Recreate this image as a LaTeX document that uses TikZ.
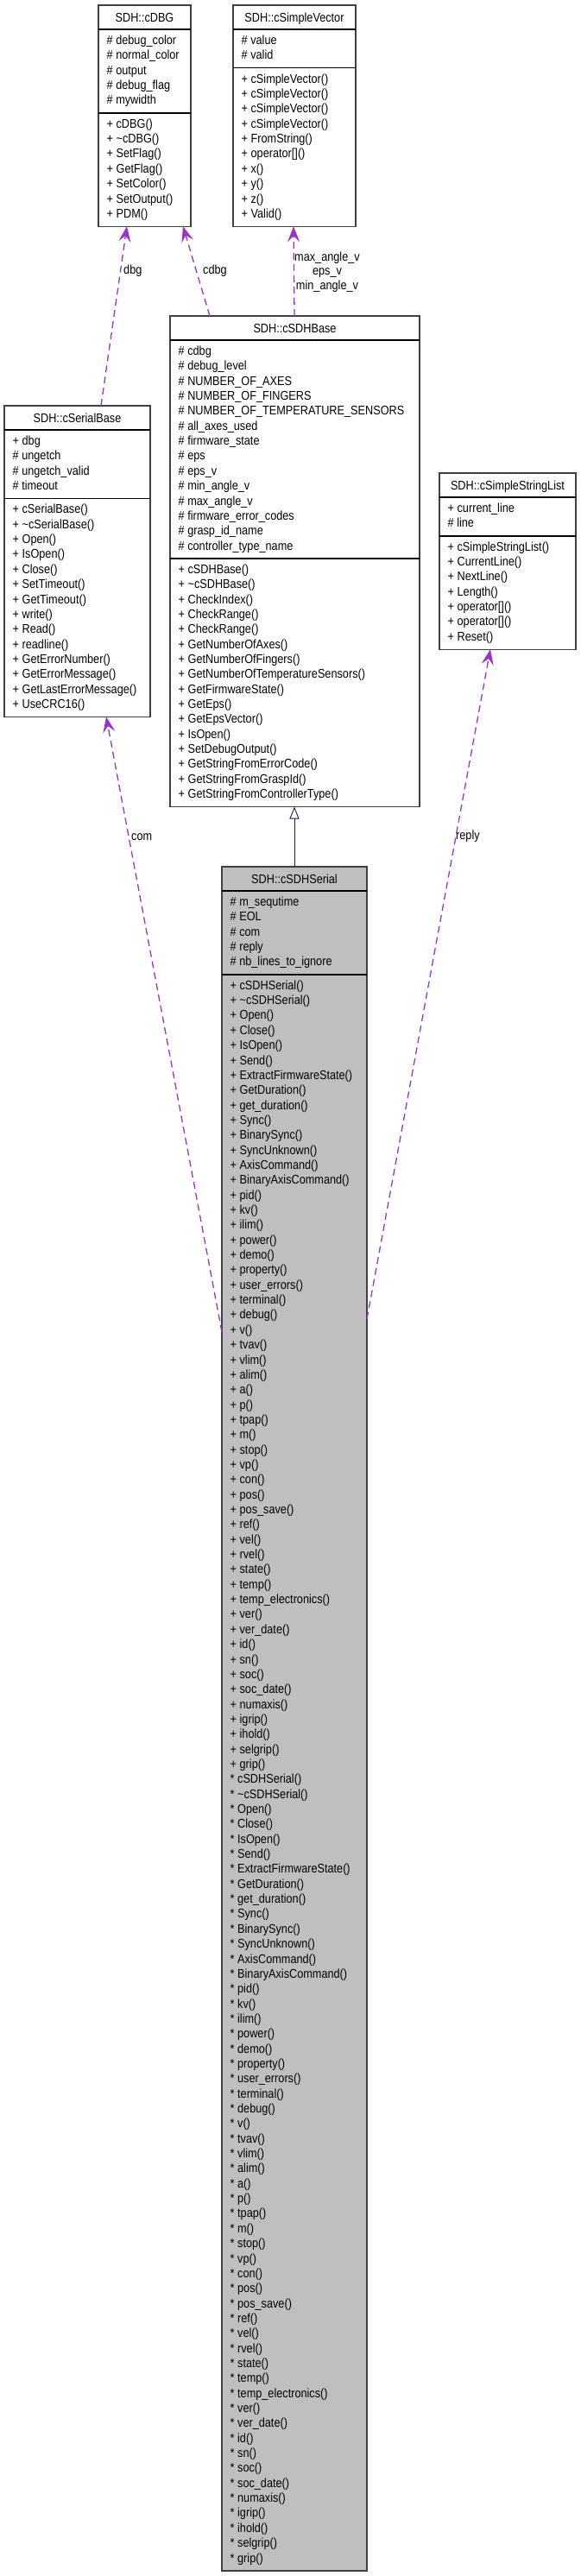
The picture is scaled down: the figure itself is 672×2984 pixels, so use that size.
\documentclass[tikz,border=0pt]{standalone}
\usepackage{fontspec}
\setmainfont{Liberation Sans}[FakeStretch=0.87]
\usetikzlibrary{arrows.meta}
\definecolor{usecol}{HTML}{9A32CD}
\definecolor{inhcol}{HTML}{191970}
\definecolor{boxfill}{HTML}{BFBFBF}
\definecolor{boxline}{HTML}{404040}
\tikzset{
 classnode/.style={draw=boxline, line width=1.3pt, rectangle, anchor=north west, inner sep=0pt, outer sep=0pt},
 sepline/.style={draw=black, line width=1.6pt},
 rowtext/.style={inner sep=0pt, font=\fontsize{14.6}{17.35}\selectfont, text=black},
 uselink/.style={draw=usecol, line width=1.3pt, dash pattern=on 8pt off 5pt, -{Stealth[length=18pt,width=14pt,inset=7pt]}},
 inhlink/.style={draw=inhcol, line width=0.9pt, -{Triangle[open,length=14pt,width=11pt]}},
 linklabel/.style={inner sep=0pt, font=\fontsize{14.6}{16.5}\selectfont, text=black},
}
% #1 name, #2 x-left, #3 x-right, #4 top, #5 n attrs, #6 n methods, #7 fill, #8 title
\newcommand\classbox[8]{%
  \pgfmathsetmacro\cbA{#4+28}%
  \pgfmathsetmacro\cbB{\cbA+#5*17.35+10}%
  \pgfmathsetmacro\cbC{\cbB+#6*17.35+10}%
  \pgfmathsetmacro\cbW{#3-#2}%
  \pgfmathsetmacro\cbH{\cbC-#4}%
  \node[classnode, fill=#7, minimum width=\cbW pt, minimum height=\cbH pt] (#1) at (#2,#4) {};
  \draw[sepline] (#2,\cbA) -- (#3,\cbA);
  \draw[sepline] (#2,\cbB) -- (#3,\cbB);
  \node[rowtext, anchor=base] (#1t) at ({(#2+#3)/2},{#4+19.3}) {#8};
}
% #1 name prefix, #2 x, #3 first baseline, #4 symbol prefix, #5 list
\newcommand\classrows[5]{%
  \foreach \t [count=\i from 0] in #5 {%
    \node[rowtext, anchor=base west] (#1\i) at (#2,{#3+\i*17.35}) {#4\t};
  }%
}
\def\sdhmeths{cSDHSerial(),%
\textasciitilde cSDHSerial(),%
Open(),%
Close(),%
IsOpen(),%
Send(),%
ExtractFirmwareState(),%
GetDuration(),%
get\_duration(),%
Sync(),%
BinarySync(),%
SyncUnknown(),%
AxisCommand(),%
BinaryAxisCommand(),%
pid(),%
kv(),%
ilim(),%
power(),%
demo(),%
property(),%
user\_errors(),%
terminal(),%
debug(),%
v(),%
tvav(),%
vlim(),%
alim(),%
a(),%
p(),%
tpap(),%
m(),%
stop(),%
vp(),%
con(),%
pos(),%
pos\_save(),%
ref(),%
vel(),%
rvel(),%
state(),%
temp(),%
temp\_electronics(),%
ver(),%
ver\_date(),%
id(),%
sn(),%
soc(),%
soc\_date(),%
numaxis(),%
igrip(),%
ihold(),%
selgrip(),%
grip()}
\begin{document}
\begin{tikzpicture}[x=1pt,y=-1pt]
\useasboundingbox[fill=white] (0,0) rectangle (672,2984);

% SDH::cDBG
\classbox{dbg}{114}{221}{6}{5}{7}{white}{SDH::cDBG}
\classrows{dbga}{123.5}{\cbA+17.5}{}{{\# debug\_color,%
\# normal\_color,%
\# output,%
\# debug\_flag,%
\# mywidth}}
\classrows{dbgm}{123.5}{\cbB+17.5}{}{{+ cDBG(),%
+ \textasciitilde cDBG(),%
+ SetFlag(),%
+ GetFlag(),%
+ SetColor(),%
+ SetOutput(),%
+ PDM()}}

% SDH::cSimpleVector
\classbox{vec}{270}{412}{6}{2}{10}{white}{SDH::cSimpleVector}
\classrows{veca}{279.5}{\cbA+17.5}{}{{\# value,%
\# valid}}
\classrows{vecm}{279.5}{\cbB+17.5}{}{{+ cSimpleVector(),%
+ cSimpleVector(),%
+ cSimpleVector(),%
+ cSimpleVector(),%
+ FromString(),%
+ operator[](),%
+ x(),%
+ y(),%
+ z(),%
+ Valid()}}

% SDH::cSDHBase
\classbox{base}{197}{486}{366}{14}{16}{white}{SDH::cSDHBase}
\classrows{basea}{206.5}{\cbA+17.5}{}{{\# cdbg,%
\# debug\_level,%
\# NUMBER\_OF\_AXES,%
\# NUMBER\_OF\_FINGERS,%
\# NUMBER\_OF\_TEMPERATURE\_SENSORS,%
\# all\_axes\_used,%
\# firmware\_state,%
\# eps,%
\# eps\_v,%
\# min\_angle\_v,%
\# max\_angle\_v,%
\# firmware\_error\_codes,%
\# grasp\_id\_name,%
\# controller\_type\_name}}
\classrows{basem}{206.5}{\cbB+17.5}{}{{+ cSDHBase(),%
+ \textasciitilde cSDHBase(),%
+ CheckIndex(),%
+ CheckRange(),%
+ CheckRange(),%
+ GetNumberOfAxes(),%
+ GetNumberOfFingers(),%
+ GetNumberOfTemperatureSensors(),%
+ GetFirmwareState(),%
+ GetEps(),%
+ GetEpsVector(),%
+ IsOpen(),%
+ SetDebugOutput(),%
+ GetStringFromErrorCode(),%
+ GetStringFromGraspId(),%
+ GetStringFromControllerType()}}

% SDH::cSerialBase
\classbox{serial}{5}{174}{470}{4}{14}{white}{SDH::cSerialBase}
\classrows{seriala}{14.5}{\cbA+17.5}{}{{+ dbg,%
\# ungetch,%
\# ungetch\_valid,%
\# timeout}}
\classrows{serialm}{14.5}{\cbB+17.5}{}{{+ cSerialBase(),%
+ \textasciitilde cSerialBase(),%
+ Open(),%
+ IsOpen(),%
+ Close(),%
+ SetTimeout(),%
+ GetTimeout(),%
+ write(),%
+ Read(),%
+ readline(),%
+ GetErrorNumber(),%
+ GetErrorMessage(),%
+ GetLastErrorMessage(),%
+ UseCRC16()}}

% SDH::cSimpleStringList
\classbox{strl}{509}{667}{548}{2}{7}{white}{SDH::cSimpleStringList}
\classrows{strla}{518.5}{\cbA+17.5}{}{{+ current\_line,%
\# line}}
\classrows{strlm}{518.5}{\cbB+17.5}{}{{+ cSimpleStringList(),%
+ CurrentLine(),%
+ NextLine(),%
+ Length(),%
+ operator[](),%
+ operator[](),%
+ Reset()}}

% SDH::cSDHSerial
\classbox{sdh}{257}{425}{1004}{5}{106}{boxfill}{SDH::cSDHSerial}
\classrows{sdha}{266.5}{\cbA+17.5}{}{{\# m\_sequtime,%
\# EOL,%
\# com,%
\# reply,%
\# nb\_lines\_to\_ignore}}
\classrows{sdhm}{266.5}{\cbB+17.5}{+ }{\sdhmeths}
\classrows{sdhn}{266.5}{\cbB+17.5+53*17.35}{* }{\sdhmeths}

% connectors
\draw[uselink] ([xshift=112pt]serial.north west) -- ([xshift=33pt]dbg.south west);
\draw[uselink] ([xshift=46pt]base.north west) -- ([xshift=98pt]dbg.south west);
\draw[uselink] ([xshift=144pt]base.north west) -- ([xshift=70pt]vec.south west);
\draw[uselink] ([yshift=-539pt]sdh.north west) -- ([xshift=118pt]serial.south west);
\draw[uselink] ([yshift=-524pt]sdh.north east) -- ([xshift=59pt]strl.south west);
\draw[inhlink] ([xshift=84pt]sdh.north west) -- ([xshift=144pt]base.south west);

% connector labels
\node[linklabel, anchor=base west] (ldbg) at (143,317.5) {dbg};
\node[linklabel, anchor=base west] (lcdbg) at (235,317.5) {cdbg};
\node[linklabel, anchor=base] (lmax) at (379,302.5) {max\_angle\_v};
\node[linklabel, anchor=base] (leps) at (379,318.5) {eps\_v};
\node[linklabel, anchor=base] (lmin) at (379,335) {min\_angle\_v};
\node[linklabel, anchor=base west] (lcom) at (152,973) {com};
\node[linklabel, anchor=base west] (lreply) at (528,972) {reply};
\end{tikzpicture}
\end{document}
